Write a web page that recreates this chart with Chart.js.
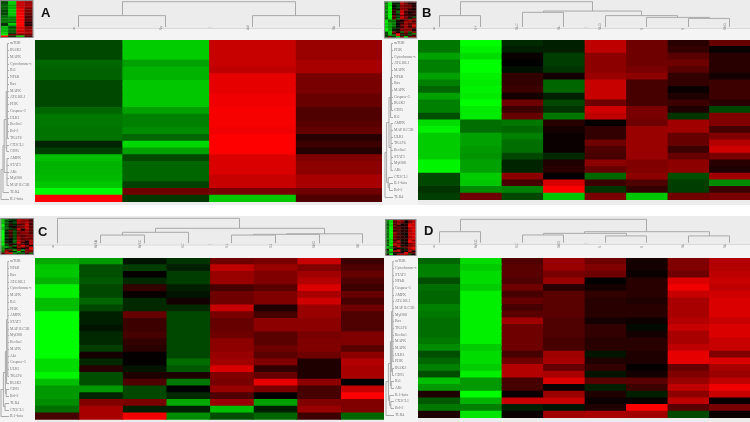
<!DOCTYPE html>
<html>
<head>
<meta charset="utf-8">
<script src="https://cdn.jsdelivr.net/npm/chart.js@4.4.1/dist/chart.umd.min.js"></script>
<style>
  html, body { margin: 0; padding: 0; background: #fff; }
  #wrap { position: relative; width: 750px; height: 422px; overflow: hidden; }
  canvas { position: absolute; }
</style>
</head>
<body>
<div id="wrap">
  <canvas id="cA" width="382" height="205" style="left:0;top:0"></canvas>
  <canvas id="cB" width="368" height="205" style="left:382px;top:0"></canvas>
  <canvas id="cC" width="384" height="206" style="left:0;top:216px"></canvas>
  <canvas id="cD" width="366" height="206" style="left:384px;top:216px"></canvas>
</div>
<script>
// ---- data (row = gene, column = sample); -1 = full green, +1 = full red ----
var genesA = ['mTOR','IRAK2','MAPK','Cytochrome-c','IL6','NFkB','Bax','MAPK','ATG16L1','PI3K','Caspase-3','ULK1',
              'Beclin1','Bcl-2','TRAF6','CX3CL1','CD95','AMPK','STAT3','AKt','MyD88','MAP1LC3B','TLR4','IL1-beta'];
var samplesA = ['w','Sy','Ad','Sk'];
var valuesA = [
  [-0.28,-0.80, 0.78, 0.60],
  [-0.28,-0.80, 0.78, 0.60],
  [-0.28,-0.80, 0.78, 0.60],
  [-0.40,-0.63, 0.78, 0.66],
  [-0.38,-0.70, 0.75, 0.66],
  [-0.38,-0.70, 0.90, 0.47],
  [-0.28,-0.78, 0.90, 0.47],
  [-0.28,-0.78, 0.90, 0.47],
  [-0.28,-0.78, 0.94, 0.41],
  [-0.28,-0.78, 0.94, 0.41],
  [-0.40,-0.63, 0.97, 0.31],
  [-0.47,-0.50, 0.97, 0.31],
  [-0.47,-0.50, 0.97, 0.35],
  [-0.45,-0.55, 0.94, 0.39],
  [-0.45,-0.40, 1.00, 0.16],
  [-0.14,-0.85, 1.00, 0.24],
  [-0.24,-0.63, 1.00, 0.14],
  [-0.75,-0.28, 0.86, 0.50],
  [-0.70,-0.40, 0.86, 0.55],
  [-0.70,-0.40, 0.86, 0.55],
  [-0.72,-0.40, 0.78, 0.66],
  [-0.78,-0.25, 0.78, 0.66],
  [-1.00, 0.43, 0.47, 0.43],
  [ 1.00,-0.22,-0.78, 0.31]
];
var colTreeA = [1.0, [0.45, 0, 1], [0.45, 2, 3]];
var rowTreeA = [1.0, [0.75, [0.6, [0.35, [0.2, 0,1,2,3,4,5,6,7,8,9,10,11,12,13,14], [0.3, 15, 16]],
                 [0.25, 17, 18, 19, 20, 21]], 22], 23];

var genesB = ['mTOR','PI3K','Cytochrome-c','ATG16L1','MAPK','NFkB','Bax','MAPK','Caspase-3','IRAK2','CD95','IL6',
              'AMPK','MAP1LC3B','ULK1','TRAF6','Beclin1','STAT3','MyD88','AKt','CX3CL1','IL1-beta','Bcl-2','TLR4'];
var samplesB = ['w','SY','SLC','SL','SLO','S','S','SKO'];
var valuesB = [
  [-0.47,-1.00,-0.16,-0.12, 0.75, 0.43, 0.16, 0.40],
  [-0.47,-0.95,-0.12,-0.12, 0.75, 0.43, 0.20, 0.04],
  [-0.63,-0.86, 0.04,-0.24, 0.55, 0.43, 0.35, 0.16],
  [-0.50,-1.00, 0.00,-0.24, 0.55, 0.43, 0.43, 0.16],
  [-0.50,-1.00,-0.06,-0.20, 0.55, 0.47, 0.35, 0.16],
  [-0.63,-0.95, 0.20, 0.08, 0.60, 0.55, 0.20, 0.08],
  [-0.50,-0.92, 0.20,-0.40, 0.78, 0.28, 0.20, 0.24],
  [-0.40,-0.95, 0.24,-0.40, 0.78, 0.28, 0.04, 0.24],
  [-0.63,-0.92, 0.08,-0.12, 0.78, 0.28, 0.12, 0.24],
  [-0.50,-1.00, 0.43,-0.28, 0.43, 0.28, 0.24, 0.16],
  [-0.50,-0.92, 0.24,-0.20, 0.82, 0.47, 0.12,-0.28],
  [-0.31,-0.92, 0.40,-0.47, 0.75, 0.47,-0.20, 0.50],
  [-0.86,-0.43,-0.47, 0.16, 0.02, 0.43, 0.63, 0.50],
  [-0.94,-0.43,-0.40, 0.08, 0.20, 0.60, 0.63, 0.28],
  [-0.80,-0.63,-0.50, 0.04, 0.20, 0.60, 0.40, 0.50],
  [-0.80,-0.63,-0.43, 0.04, 0.43, 0.60, 0.40, 0.70],
  [-0.80,-0.60,-0.43, 0.04, 0.31, 0.60, 0.24, 0.82],
  [-0.80,-0.58,-0.28,-0.16, 0.28, 0.60, 0.40, 0.47],
  [-0.96,-0.63,-0.14, 0.12, 0.55, 0.50, 0.55, 0.16],
  [-0.96,-0.63,-0.14, 0.16, 0.40, 0.50, 0.55, 0.12],
  [-0.28,-0.80, 0.55, 0.02,-0.40, 0.55,-0.31, 0.63],
  [-0.28,-0.78, 0.28, 0.86, 0.24, 0.31,-0.24,-0.55],
  [-0.20,-0.55,-0.50, 1.00,-0.20, 0.20,-0.24, 0.24],
  [-0.24, 0.43,-0.28,-0.78, 0.47,-0.78, 0.43, 0.47]
];
var colTreeB = [1.0, [0.45, 0, 1], [0.63, [0.58, 2, 3], [0.45, 4, [0.38, 5, [0.34, 6, 7]]]]];
var rowTreeB = [1.0, [0.8, [0.5, [0.3, [0.2, 0,1,2,3,4,5,6,7,8,9,10], 11], [0.25, 12,13,14,15,16,17,18,19]],
                 [0.6, 20, [0.45, 21, 22]]], 23];

var genesC = ['mTOR','NFkB','Bax','ATG16L1','Cytochrome-c','MAPK','IL6','PI3K','AMPK','STAT3','MAP1LC3B','MyD88',
              'Beclin1','MAPK','Akt','Caspase-3','ULK1','TRAF6','IRAK2','CD95','Bcl-2','TLR4','CX3CL1','IL1-beta'];
var samplesC = ['w','WSB','WSC','SC','S1','S2','SKO','SK'];
var valuesC = [
  [-0.66,-0.60,-0.08,-0.20, 0.43, 0.47, 0.78, 0.24],
  [-0.78,-0.31,-0.24,-0.12, 0.75, 0.60, 0.50, 0.31],
  [-0.78,-0.31, 0.02,-0.24, 0.60, 0.50, 0.63, 0.40],
  [-0.70,-0.35,-0.16,-0.24, 0.60, 0.50, 0.70, 0.31],
  [-0.94,-0.28, 0.20,-0.12, 0.28, 0.35, 0.86, 0.24],
  [-0.94,-0.28, 0.04,-0.08, 0.43, 0.50, 0.66, 0.40],
  [-0.75,-0.40,-0.16, 0.08, 0.43, 0.50, 0.82, 0.28],
  [-0.75,-0.28,-0.16,-0.16, 0.78, 0.12, 0.60, 0.43],
  [-1.00,-0.12, 0.40,-0.28, 0.47, 0.28, 0.60, 0.31],
  [-1.00,-0.12, 0.24,-0.28, 0.40, 0.55, 0.55, 0.31],
  [-1.00,-0.08, 0.24,-0.28, 0.40, 0.55, 0.55, 0.31],
  [-1.00,-0.16, 0.28,-0.28, 0.43, 0.35, 0.47, 0.50],
  [-1.00,-0.16, 0.20,-0.28, 0.55, 0.35, 0.50, 0.50],
  [-1.00,-0.24, 0.16,-0.28, 0.55, 0.43, 0.50, 0.35],
  [-1.00, 0.08, 0.02,-0.28, 0.60, 0.35, 0.43, 0.55],
  [-0.86,-0.16, 0.02,-0.43, 0.63, 0.50, 0.12, 0.70],
  [-0.86, 0.16,-0.08,-0.35, 0.86, 0.20, 0.12, 0.66],
  [-0.96,-0.31, 0.12, 0.12, 0.50, 0.40, 0.12, 0.66],
  [-0.75,-0.31, 0.31,-0.47, 0.47, 0.90, 0.55, 0.02],
  [-0.60,-0.60,-0.28, 0.00, 0.60, 0.47, 0.28, 0.78],
  [-0.60,-0.14,-0.28,-0.16, 0.31, 0.02, 0.28, 1.00],
  [-0.55, 0.50, 0.47,-0.66, 0.60,-0.63, 0.50, 0.50],
  [-0.43, 0.66,-0.12,-0.12,-0.75,-0.12, 0.60, 0.50],
  [ 0.28, 0.66, 0.94,-0.55,-0.31,-0.40, 0.24,-0.40]
];
var colTreeC = [1.0, 0, [0.6, [0.44, [0.33, 1, 2], 3], [0.38, [0.36, [0.33, 4, 5], 6], 7]]];
var rowTreeC = [1.0, [0.7, [0.45, [0.3, [0.15, 0,1,2,3,4,5,6,7,8,9,10,11,12,13,14,15,16,17], 18], [0.35, 19, 20]],
                 [0.5, 21, 22]], 23];

var genesD = ['mTOR','Cytochrome-c','STAT3','NFkB','Caspase-3','AMPK','ATG16L1','MAP1LC3B','MyD88','Bax','TRAF6','Beclin1',
              'MAPK','MAPK','ULK1','PI3K','IRAK2','CD95','IL6','AKt','IL1-beta','CX3CL1','Bcl-2','TLR4'];
var samplesD = ['w','WSO','SC','SKO','S','S','SL','SL'];
var valuesD = [
  [-0.40,-0.86, 0.31, 0.60, 0.43, 0.08, 0.50, 0.70],
  [-0.50,-0.80, 0.35, 0.60, 0.50, 0.08, 0.50, 0.70],
  [-0.50,-0.86, 0.35, 0.47, 0.43, 0.04, 0.43, 0.75],
  [-0.31,-0.86, 0.31, 0.60, 0.00, 0.16, 0.86, 0.78],
  [-0.43,-0.80, 0.43, 0.16, 0.08, 0.16, 0.94, 0.75],
  [-0.40,-0.94, 0.28, 0.35, 0.20, 0.16, 0.78, 0.82],
  [-0.40,-0.94, 0.40, 0.35, 0.16, 0.12, 0.66, 0.86],
  [-0.50,-0.94, 0.28, 0.35, 0.16, 0.16, 0.66, 0.86],
  [-0.47,-0.94, 0.35, 0.35, 0.16, 0.16, 0.66, 0.86],
  [-0.43,-0.94, 0.63, 0.31, 0.08, 0.06, 0.70, 0.78],
  [-0.43,-0.94, 0.43, 0.31, 0.20,-0.04, 0.78, 0.86],
  [-0.43,-0.94, 0.43, 0.31, 0.20, 0.08, 0.66, 0.86],
  [-0.47,-0.94, 0.43, 0.28, 0.16, 0.16, 0.66, 0.78],
  [-0.55,-0.80, 0.43, 0.28, 0.16, 0.16, 0.75, 0.78],
  [-0.31,-0.86, 0.28, 0.63,-0.08, 0.12, 0.90, 0.50],
  [-0.40,-0.86, 0.43, 0.66, 0.12, 0.12, 0.90, 0.86],
  [-0.50,-0.80, 0.70, 0.40, 0.20, 0.02, 0.40, 0.66],
  [-0.31,-0.94, 0.70, 0.66,-0.08, 0.08, 0.50, 0.60],
  [-0.75,-0.60, 0.28, 0.86, 0.35, 0.35, 0.60, 0.75],
  [-0.60,-0.60, 0.28, 0.04,-0.12, 0.24, 0.75, 0.94],
  [ 0.12,-1.00, 0.04, 0.60, 0.12,-0.12, 0.55, 0.78],
  [-0.35,-0.70, 0.78, 0.78, 0.04, 0.04, 0.75, 0.04],
  [-0.47,-0.50,-0.12,-0.08, 0.12, 1.00, 0.35, 0.47],
  [ 0.12,-0.90, 0.04, 0.63, 0.66, 0.63,-0.28, 0.04]
];
var colTreeD = [1.0, [0.47, 0, 1], [0.47, [0.4, [0.33, 2, 3], [0.29, 4, 5]], [0.29, 6, 7]]];
var rowTreeD = [1.0, [0.7, [0.45, [0.3, [0.15, 0,1,2,3,4,5,6,7,8,9,10,11,12,13,14,15], [0.2, 16, 17]], [0.35, 18, 19]],
                 [0.55, 20, [0.4, 21, 22]]], 23];

// ---- drawing ----
Chart.defaults.font.family = '"DejaVu Sans", "Liberation Sans", sans-serif';

var heatColor = function (v) {
    return v < 0 ? 'rgb(0,' + Math.round(-v * 255) + ',0)' : 'rgb(' + Math.round(v * 255) + ',0,0)';
};

// walks a tree [height, child, child...]; leaves are indices
function drawTree(ctx, node, leafAt, hAt, cols) {
    if (typeof node === 'number') {
        return { p: leafAt(node), q: hAt(0) };
    }
    var q = hAt(node[0]);
    var kids = node.slice(1).map(function (k) { return drawTree(ctx, k, leafAt, hAt, cols); });
    var seg = function (p1, q1, p2, q2) {
        ctx.beginPath();
        if (cols) { ctx.moveTo(Math.round(p1) + 0.5, q1); ctx.lineTo(Math.round(p2) + 0.5, q2); }
        else { ctx.moveTo(q1, Math.round(p1) + 0.5); ctx.lineTo(q2, Math.round(p2) + 0.5); }
        ctx.stroke();
    };
    kids.forEach(function (k) { seg(k.p, k.q, k.p, q); });
    var lo = kids[0].p, hi = kids[kids.length - 1].p;
    seg(lo, q, hi, q);
    return { p: (lo + hi) / 2, q: q };
}

function decor(p) {
    return {
        id: 'decor' + p.letter,
        beforeDraw: function (chart) {
            var ctx = chart.ctx, a = chart.chartArea;
            ctx.save();
            ctx.fillStyle = '#ececec';
            ctx.fillRect(0, 0, chart.width, chart.height);
            ctx.fillStyle = '#f4f4f4';
            ctx.fillRect(a.left, p.band, chart.width - a.left, a.top - p.band);
            ctx.fillRect(0, a.top - 2, a.left, chart.height - a.top + 2);
            ctx.strokeStyle = '#d8d8d8';
            ctx.beginPath();
            ctx.moveTo(a.left, p.band + 0.5); ctx.lineTo(chart.width, p.band + 0.5);
            ctx.stroke();
            ctx.restore();
        },
        afterDraw: function (chart) {
            var ctx = chart.ctx, a = chart.chartArea;
            var xs = chart.scales.xTop, ys = chart.scales.y;
            ctx.save();
            ctx.strokeStyle = '#a9a9a9';
            ctx.lineWidth = 1;
            drawTree(ctx, p.colTree, function (i) { return xs.getPixelForTick(i); },
                function (h) { return p.dBase - h * (p.dBase - p.dTop); }, true);
            drawTree(ctx, p.rowTree, function (i) { return ys.getPixelForTick(i); },
                function (h) { return p.rx1 - h * (p.rx1 - p.rx0); }, false);

            // overview thumbnail
            var t = p.thumb, n = p.values.length, m = p.values[0].length;
            p.values.forEach(function (row, i) {
                row.forEach(function (v, j) {
                    ctx.fillStyle = heatColor(v);
                    ctx.fillRect(t.x + j * t.w / m, t.y + i * t.h / n, t.w / m + 0.3, t.h / n + 0.3);
                });
            });
            ctx.strokeStyle = '#8a8a8a';
            ctx.strokeRect(t.x + 0.5, t.y + 0.5, t.w, t.h);

            ctx.fillStyle = '#111';
            ctx.font = 'bold 13px "Liberation Sans", Arial, sans-serif';
            ctx.textBaseline = 'alphabetic';
            ctx.fillText(p.letter, p.lx, p.ly);

            ctx.fillStyle = '#999';
            ctx.font = '5px "DejaVu Sans", sans-serif';
            ctx.textAlign = 'center';
            ctx.fillText('...', p.dotsX, p.band);
            ctx.restore();
        }
    };
}

function makePanel(id, p) {
    var datasets = p.samples.map(function (s, j) {
        return {
            label: s,
            data: p.genes.map(function () { return 1; }),
            backgroundColor: p.values.map(function (r) { return heatColor(r[j]); }),
            borderWidth: 0,
            inflateAmount: 0.6,
            barPercentage: 1,
            categoryPercentage: 1
        };
    });
    return new Chart(document.getElementById(id), {
        type: 'bar',
        data: { labels: p.genes, datasets: datasets },
        options: {
            indexAxis: 'y',
            responsive: false,
            animation: false,
            devicePixelRatio: 1,
            events: [],
            layout: { padding: p.pad },
            plugins: { legend: { display: false }, tooltip: { enabled: false } },
            scales: {
                x: { stacked: true, display: false, min: 0, max: p.samples.length },
                xTop: {
                    type: 'category', position: 'top', labels: p.samples, offset: true,
                    grid: { display: false }, border: { display: false },
                    ticks: { font: { size: 3.5 }, color: '#777', minRotation: 90, maxRotation: 90, padding: 2, autoSkip: false },
                    afterFit: function (s) { s.height = p.topH; }
                },
                y: {
                    stacked: true,
                    grid: { display: false }, border: { display: false },
                    ticks: { font: { size: 3.8, family: '"Liberation Serif", serif' }, color: '#777', crossAlign: 'far', autoSkip: false, padding: 0 },
                    afterFit: function (s) { s.width = p.yW; }
                }
            }
        },
        plugins: [decor(p)]
    });
}

makePanel('cA', {
    letter: 'A', genes: genesA, samples: samplesA, values: valuesA, colTree: colTreeA, rowTree: rowTreeA,
    pad: { left: 10, top: 0, right: 0, bottom: 3 }, yW: 25, topH: 40,
    band: 28, dTop: 1.7, dBase: 27, rx0: 1, rx1: 9, dotsX: 210,
    thumb: { x: 0, y: 0, w: 32.5, h: 37 }, lx: 41, ly: 17
});
makePanel('cB', {
    letter: 'B', genes: genesB, samples: samplesB, values: valuesB, colTree: colTreeB, rowTree: rowTreeB,
    pad: { left: 12, top: 0, right: 0, bottom: 5 }, yW: 24, topH: 40,
    band: 28, dTop: 1.7, dBase: 27, rx0: 3, rx1: 11, dotsX: 204,
    thumb: { x: 2, y: 1.5, w: 32, h: 36 }, lx: 40, ly: 17
});
makePanel('cC', {
    letter: 'C', genes: genesC, samples: samplesC, values: valuesC, colTree: colTreeC, rowTree: rowTreeC,
    pad: { left: 10, top: 0, right: 0, bottom: 2 }, yW: 25, topH: 42,
    band: 28.5, dTop: 2.3, dBase: 27.3, rx0: 1, rx1: 9, dotsX: 210,
    thumb: { x: 0.5, y: 2, w: 32.5, h: 36 }, lx: 38, ly: 20
});
makePanel('cD', {
    letter: 'D', genes: genesD, samples: samplesD, values: valuesD, colTree: colTreeD, rowTree: rowTreeD,
    pad: { left: 11, top: 0, right: 0, bottom: 4 }, yW: 23, topH: 42,
    band: 28, dTop: 3.3, dBase: 26.7, rx0: 2, rx1: 10, dotsX: 202,
    thumb: { x: 1.5, y: 3, w: 30, h: 36 }, lx: 40, ly: 19
});
</script>
</body>
</html>
